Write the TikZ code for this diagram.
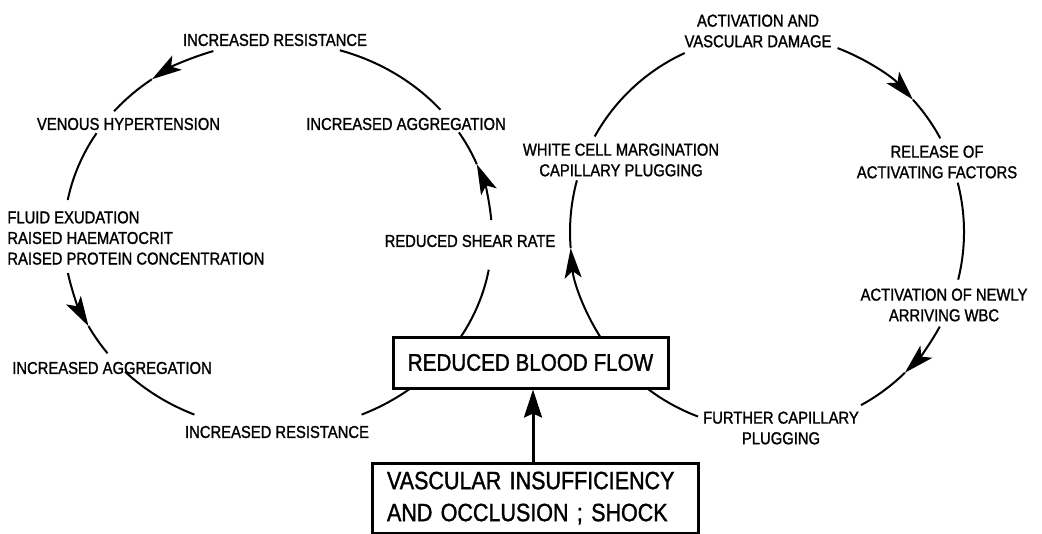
\documentclass[tikz,border=0pt]{standalone}
\usepackage{fontspec}
\setmainfont{Liberation Sans}[FakeStretch=0.86,FakeBold=1.3]
\usetikzlibrary{arrows.meta}

\tikzset{
  lbl/.style={inner sep=0pt, align=center, font=\fontsize{8.6}{10.3}\selectfont},
  cyc/.style={line width=1pt},
  cyctip/.style={line width=1pt,-{Stealth[length=15pt,width=8.5pt,inset=3.5pt]}},
  boxed/.style={draw, line width=1.5pt, fill=white, inner sep=0pt},
}

\begin{document}
\begin{tikzpicture}[x=0.5pt,y=-0.5pt]
\useasboundingbox (0,0) rectangle (1042,534);
\coordinate (L) at (278,236);
\coordinate (R) at (767,232);

% left loop
\draw[cyctip] ([shift={(252.4:214 and 194)}]L) arc[start angle=252.4,end angle=233.9,x radius=214,y radius=194];
\draw[cyc] ([shift={(233.9:214 and 194)}]L) arc[start angle=233.9,end angle=220,x radius=214,y radius=194];
\draw[cyc] ([shift={(212:214 and 194)}]L) arc[start angle=212,end angle=190.7,x radius=214,y radius=194];
\draw[cyctip] ([shift={(169:214 and 194)}]L) arc[start angle=169,end angle=152.3,x radius=214,y radius=194];
\draw[cyc] ([shift={(152.3:214 and 194)}]L) arc[start angle=152.3,end angle=142.8,x radius=214,y radius=194];
\draw[cyc] ([shift={(135.6:214 and 194)}]L) arc[start angle=135.6,end angle=113,x radius=214,y radius=194];
\draw[cyc] ([shift={(67:214 and 194)}]L) arc[start angle=67,end angle=48,x radius=214,y radius=194];
\draw[cyc] ([shift={(35:214 and 194)}]L) arc[start angle=35,end angle=10,x radius=214,y radius=194];
\draw[cyctip] ([shift={(-4.7:214 and 194)}]L) arc[start angle=-4.7,end angle=-21.7,x radius=214,y radius=194];
\draw[cyc] ([shift={(-21.7:214 and 194)}]L) arc[start angle=-21.7,end angle=-32.3,x radius=214,y radius=194];
\draw[cyc] ([shift={(-40.6:214 and 194)}]L) arc[start angle=-40.6,end angle=-73.2,x radius=214,y radius=194];

% right loop
\draw[cyctip] ([shift={(145:197)}]R) arc[start angle=145,end angle=175.3,radius=197];
\draw[cyc] ([shift={(175.3:197)}]R) arc[start angle=175.3,end angle=195.2,radius=197];
\draw[cyc] ([shift={(209:197)}]R) arc[start angle=209,end angle=245.3,radius=197];
\draw[cyctip] ([shift={(291:197)}]R) arc[start angle=291,end angle=317.8,radius=197];
\draw[cyc] ([shift={(317.8:197)}]R) arc[start angle=317.8,end angle=331.6,radius=197];
\draw[cyc] ([shift={(345.5:197)}]R) arc[start angle=345.5,end angle=374,radius=197];
\draw[cyctip] ([shift={(28.7:197)}]R) arc[start angle=28.7,end angle=45.6,radius=197];
\draw[cyc] ([shift={(45.6:197)}]R) arc[start angle=45.6,end angle=61.5,radius=197];
\draw[cyc] ([shift={(110.5:197)}]R) arc[start angle=110.5,end angle=130,radius=197];

\node[lbl] (incres) at (275,40) {INCREASED RESISTANCE};
\node[lbl] (venous) at (128.5,124) {VENOUS HYPERTENSION};
\node[lbl] (incagg2) at (406,124) {INCREASED AGGREGATION};
\node[lbl,align=left,anchor=west] (fluid) at (7,238) {FLUID EXUDATION\\RAISED HAEMATOCRIT\\RAISED PROTEIN CONCENTRATION};
\node[lbl] (shear) at (470,241) {REDUCED SHEAR RATE};
\node[lbl] (incagg) at (112,368) {INCREASED AGGREGATION};
\node[lbl] (incres2) at (277,432) {INCREASED RESISTANCE};

\node[lbl] (actdam) at (758,31) {ACTIVATION AND\\VASCULAR DAMAGE};
\node[lbl] (whitecell) at (621,160) {WHITE CELL MARGINATION\\CAPILLARY PLUGGING};
\node[lbl] (release) at (937,162) {RELEASE OF\\ACTIVATING FACTORS};
\node[lbl] (newwbc) at (944,305) {ACTIVATION OF NEWLY\\ARRIVING WBC};
\node[lbl] (further) at (781,428) {FURTHER CAPILLARY\\PLUGGING};

\node[boxed,minimum width=137.5pt,minimum height=25.5pt,font=\fontsize{12}{16}\selectfont] (flow) at (530.5,362.5) {REDUCED BLOOD FLOW};
\node[boxed,text width=148pt,inner xsep=7.5pt,minimum height=35pt,align=left,font=\fontsize{12.5}{16}\selectfont] (cause) at (535,498) {VASCULAR INSUFFICIENCY\\AND OCCLUSION ; SHOCK};

\draw[line width=1.5pt,-{Stealth[length=14pt,width=9pt,inset=2pt]}] ([xshift=-1pt]cause.north) -- ([xshift=1.25pt]flow.south);
\end{tikzpicture}
\end{document}
